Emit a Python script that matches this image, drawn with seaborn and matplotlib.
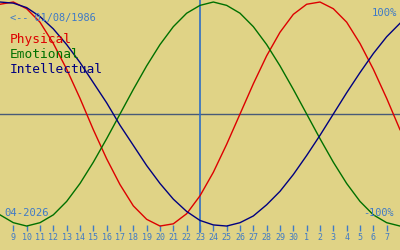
import matplotlib
matplotlib.use("Agg")
import matplotlib.pyplot as plt
import seaborn as sns
import pandas as pd

# day index 0 = 9 April; window runs from day -1 to day 29
days = list(range(-1, 30))
tick_days = list(range(0, 29))
tick_labels = ["9", "10", "11", "12", "13", "14", "15", "16", "17", "18", "19",
               "20", "21", "22", "23", "24", "25", "26", "27", "28", "29", "30",
               "1", "2", "3", "4", "5", "6", "7"]
today = 14

physical = [0.98, 1.00, 0.94, 0.82, 0.63, 0.40, 0.14, -0.14, -0.40, -0.63,
            -0.82, -0.94, -1.00, -0.98, -0.89, -0.73, -0.52, -0.27, 0.00, 0.27,
            0.52, 0.73, 0.89, 0.98, 1.00, 0.94, 0.82, 0.63, 0.40, 0.14, -0.14]
emotional = [-0.90, -0.97, -1.00, -0.97, -0.90, -0.78, -0.62, -0.43, -0.22, 0.00,
             0.22, 0.43, 0.62, 0.78, 0.90, 0.97, 1.00, 0.97, 0.90, 0.78,
             0.62, 0.43, 0.22, 0.00, -0.22, -0.43, -0.62, -0.78, -0.90, -0.97, -1.00]
intellectual = [1.00, 0.99, 0.95, 0.87, 0.76, 0.62, 0.46, 0.28, 0.10, -0.10,
                -0.28, -0.46, -0.62, -0.76, -0.87, -0.95, -0.99, -1.00, -0.97, -0.91,
                -0.81, -0.69, -0.54, -0.37, -0.19, 0.00, 0.19, 0.37, 0.54, 0.69, 0.81]

series_names = ["Physical", "Emotional", "Intellectual"]
series_colors = ["#dd0000", "#007000", "#000080"]

df = pd.DataFrame({
    "day": days * 3,
    "value": physical + emotional + intellectual,
    "series": [series_names[0]] * len(days) + [series_names[1]] * len(days) + [series_names[2]] * len(days),
})

bg = "#e0d386"
txt_blue = "#3f7ac6"
mono = ["DejaVu Sans Mono"]

fig = plt.figure(figsize=(4, 2.5), dpi=100, facecolor=bg)
ax = fig.add_axes([0, 0.09, 1, 0.91])
ax.set_facecolor(bg)

ax.axhline(0, color="#485a78", lw=1.0, zorder=1)
ax.axvline(today, ymin=-0.02, ymax=1, color="#2f6ec4", lw=1.2, zorder=1, clip_on=False)

sns.lineplot(data=df, x="day", y="value", hue="series", hue_order=series_names,
             palette=series_colors, ax=ax, lw=1.0, legend=False, zorder=3)

ax.set_xlim(-1, 29)
ax.set_ylim(-1.013, 1.018)
ax.set_xlabel("")
ax.set_ylabel("")
ax.set_yticks([])
ax.set_xticks(tick_days)
ax.set_xticklabels(tick_labels, fontfamily=mono, fontsize=6.0, color=txt_blue)
ax.tick_params(axis="x", direction="inout", length=5.0, width=1.0, color=txt_blue, pad=1.8)
for s in ax.spines.values():
    s.set_visible(False)

fig.text(0.025, 0.917, "<-- 01/08/1986", fontfamily=mono, fontsize=7.4, color=txt_blue, va="baseline")
fig.text(0.992, 0.936, "100%", fontfamily=mono, fontsize=7.6, color=txt_blue, va="baseline", ha="right")
fig.text(0.01, 0.136, "04-2026", fontfamily=mono, fontsize=7.6, color=txt_blue, va="baseline")
fig.text(0.985, 0.136, "-100%", fontfamily=mono, fontsize=7.4, color=txt_blue, va="baseline", ha="right")
for name, col, yb in zip(series_names, series_colors, [0.828, 0.768, 0.708]):
    fig.text(0.025, yb, name, fontfamily=mono, fontsize=9.3, color=col, va="baseline")

fig.savefig("out.png", dpi=100, facecolor=bg)
